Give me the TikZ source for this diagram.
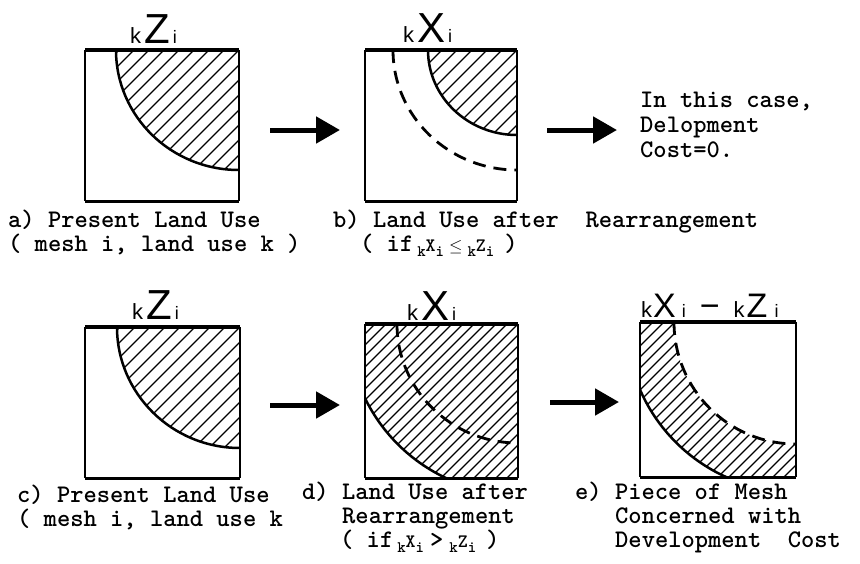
\documentclass[tikz,border=0pt]{standalone}
\usepackage{fontspec}
\newfontfamily\lblfont{Liberation Sans}
\usetikzlibrary{arrows.meta}
\newcommand{\sbs}[1]{\raisebox{-5pt}{\fontsize{16}{16}\selectfont #1}}
\newcommand{\mdl}[1]{{\fontsize{19}{19}\selectfont #1}}
\newcommand{\smk}[1]{{\fontsize{22}{22}\selectfont #1}}
\newcommand{\smi}[1]{{\fontsize{18}{18}\selectfont #1}}
\newcommand{\bgl}[1]{{\fontsize{42}{42}\selectfont #1}}
\newcommand{\boxlab}[1]{\smk{k}\kern3pt\bgl{#1}\kern3pt\smi{i}}
\begin{document}
\begin{tikzpicture}[x=1pt,y=-1pt,
  mono/.style={font=\fontsize{25.3}{27}\selectfont\ttfamily\bfseries, inner sep=0pt, anchor=base west},
  lbl/.style={font=\lblfont, inner sep=0pt, anchor=base west},
  boxarea/.style={inner sep=0pt, outer sep=0pt},
  side/.style={line width=2pt},
  topedge/.style={line width=4pt},
  botedge/.style={line width=3pt},
  hatch/.style={line width=1.3pt},
  arcline/.style={line width=2.5pt},
  dasharc/.style={line width=2.8pt, dash pattern=on 13pt off 8pt},
  bigarrow/.style={line width=5pt, -{Triangle[length=24pt,width=26pt]}}]
\useasboundingbox (0,0) rectangle (860,563);
\fill[white] (0,0) rectangle (860,563);

% ---------- box a ----------
\node[boxarea, minimum width=154pt, minimum height=151pt] (A) at (162,125.5) {};
\begin{scope}[shift={(A.north east)}]
  \clip (0,0) -- (-123,0) arc[start angle=180,end angle=90,x radius=123,y radius=120] -- cycle;
  \foreach \s in {-180,-165,...,180} \draw[hatch] (\s,0) ++(-200,200) -- ++(400,-400);
\end{scope}
\draw[arcline] (A.north east) ++(-123,0) arc[start angle=180,end angle=90,x radius=123,y radius=120];
\draw[side] (A.north west) -- (A.south west) (A.north east) -- (A.south east);
\draw[topedge] (A.north west) -- (A.north east);
\draw[botedge] (A.south west) -- (A.south east);
\node[lbl] (Alab) at (130,43) {\boxlab{Z}};

% ---------- box b ----------
\node[boxarea, minimum width=152pt, minimum height=151pt] (B) at (441,125.5) {};
\begin{scope}[shift={(B.north east)}]
  \clip (0,0) -- (-89,0) arc[start angle=180,end angle=90,x radius=89,y radius=85] -- cycle;
  \foreach \s in {-180,-165,...,180} \draw[hatch] (\s,0) ++(-200,200) -- ++(400,-400);
\end{scope}
\draw[arcline] (B.north east) ++(-89,0) arc[start angle=180,end angle=90,x radius=89,y radius=85];
\draw[dasharc] (B.north east) ++(-124,0) arc[start angle=180,end angle=90,x radius=124,y radius=120];
\draw[side] (B.north west) -- (B.south west) (B.north east) -- (B.south east);
\draw[topedge] (B.north west) -- (B.north east);
\draw[botedge] (B.south west) -- (B.south east);
\node[lbl] (Blab) at (403,42) {\boxlab{X}};

% ---------- box c ----------
\node[boxarea, minimum width=155pt, minimum height=151pt] (C) at (162.5,402.5) {};
\begin{scope}[shift={(C.north east)}]
  \clip (0,0) -- (-123,0) arc[start angle=180,end angle=90,x radius=123,y radius=121] -- cycle;
  \foreach \s in {-180,-165,...,180} \draw[hatch] (\s,0) ++(-200,200) -- ++(400,-400);
\end{scope}
\draw[arcline] (C.north east) ++(-123,0) arc[start angle=180,end angle=90,x radius=123,y radius=121];
\draw[side] (C.north west) -- (C.south west) (C.north east) -- (C.south east);
\draw[topedge] (C.north west) -- (C.north east);
\draw[botedge] (C.south west) -- (C.south east);
\node[lbl] (Clab) at (132,319) {\boxlab{Z}};

% ---------- box d ----------
\node[boxarea, minimum width=153pt, minimum height=154pt] (D) at (441.5,401) {};
\begin{scope}
  \clip (D.south west) rectangle (D.north east);
  \begin{scope}[shift={(D.north east)}]
    \begin{scope}
      \clip (0,0) circle[radius=170];
      \foreach \s in {-176,-165,...,176} \draw[hatch] (\s,0) ++(-200,200) -- ++(400,-400);
    \end{scope}
    \draw[arcline] (-170,0) arc[start angle=180,end angle=90,radius=170];
    \draw[dasharc] (-121,0) arc[start angle=180,end angle=90,x radius=121,y radius=119];
  \end{scope}
\end{scope}
\draw[side] (D.north west) -- (D.south west) (D.north east) -- (D.south east);
\draw[topedge] (D.north west) -- (D.north east);
\draw[botedge] (D.south west) -- (D.south east);
\node[lbl] (Dlab) at (407,320) {\boxlab{X}};

% ---------- box e ----------
\node[boxarea, minimum width=156pt, minimum height=155pt] (E) at (718,399.5) {};
\begin{scope}
  \clip (E.south west) rectangle (E.north east);
  \begin{scope}[shift={(E.north east)}]
    \begin{scope}
      \clip (0,0) circle[radius=170];
      \clip (-122,0) arc[start angle=180,end angle=90,radius=122] -- (0,220) -- (-220,220) -- (-220,0) -- cycle;
      \foreach \s in {-176,-165,...,176} \draw[hatch] (\s,0) ++(-200,200) -- ++(400,-400);
    \end{scope}
    \draw[arcline] (-170,0) arc[start angle=180,end angle=90,radius=170];
    \draw[dasharc] (-122,0) arc[start angle=180,end angle=90,radius=122];
  \end{scope}
\end{scope}
\draw[side] (E.north west) -- (E.south west) (E.north east) -- (E.south east);
\draw[topedge] (E.north west) -- (E.north east);
\draw[botedge] (E.south west) -- (E.south east);
\node[lbl] (Elab) at (641,317) {\smk{k}\kern1pt{\fontsize{34}{34}\selectfont X}\kern6pt\smi{i}\kern14pt{\fontsize{34}{34}\selectfont −}\kern14pt\smk{k}\kern2pt{\fontsize{34}{34}\selectfont Z}\kern7pt\smi{i}};

% ---------- arrows ----------
\coordinate (r1s) at (270,130); \coordinate (r1e) at (340,130);
\coordinate (r2s) at (547,130); \coordinate (r2e) at (617,130);
\coordinate (r3s) at (270,405); \coordinate (r3e) at (340,405);
\coordinate (r4s) at (550,402); \coordinate (r4e) at (619,402);
\draw[bigarrow] (r1s) -- (r1e);
\draw[bigarrow] (r2s) -- (r2e);
\draw[bigarrow] (r3s) -- (r3e);
\draw[bigarrow] (r4s) -- (r4e);

% ---------- texts ----------
\node[mono] (t1) at (640,107) {In this case,};
\node[mono] (t2) at (640,132) {Delopment};
\node[mono] (t3) at (640,157) {Cost=0.};

\node[mono] (a1) at (8,227) {a) Present Land Use};
\node[mono] (a2) at (8,251) {( mesh i, land use k )};
\node[mono] (b1) at (333,227) {b) Land Use after\ \ Rearrangement};
\node[mono] (b2) at (360,251) {( if\kern4pt\sbs{k}\mdl{X}\sbs{i}\kern5pt{\fontsize{19}{19}\selectfont$\le$}\kern5pt\sbs{k}\mdl{Z}\sbs{i}\kern10pt)};

\node[mono] (c1) at (17,502) {c) Present Land Use};
\node[mono] (c2) at (17,526) {( mesh i, land use k};
\node[mono] (d1) at (302,499) {d) Land Use after};
\node[mono] (d2) at (342,523) {Rearrangement};
\node[mono] (d3) at (340,547) {( if\kern4pt\sbs{k}\mdl{X}\sbs{i}\kern6pt>\kern6pt\sbs{k}\mdl{Z}\sbs{i}\kern10pt)};
\node[mono] (e1) at (575,499) {e) Piece of Mesh};
\node[mono] (e2) at (615,523) {Concerned with};
\node[mono] (e3) at (615,547) {Development\ \ Cost};
\end{tikzpicture}
\end{document}
